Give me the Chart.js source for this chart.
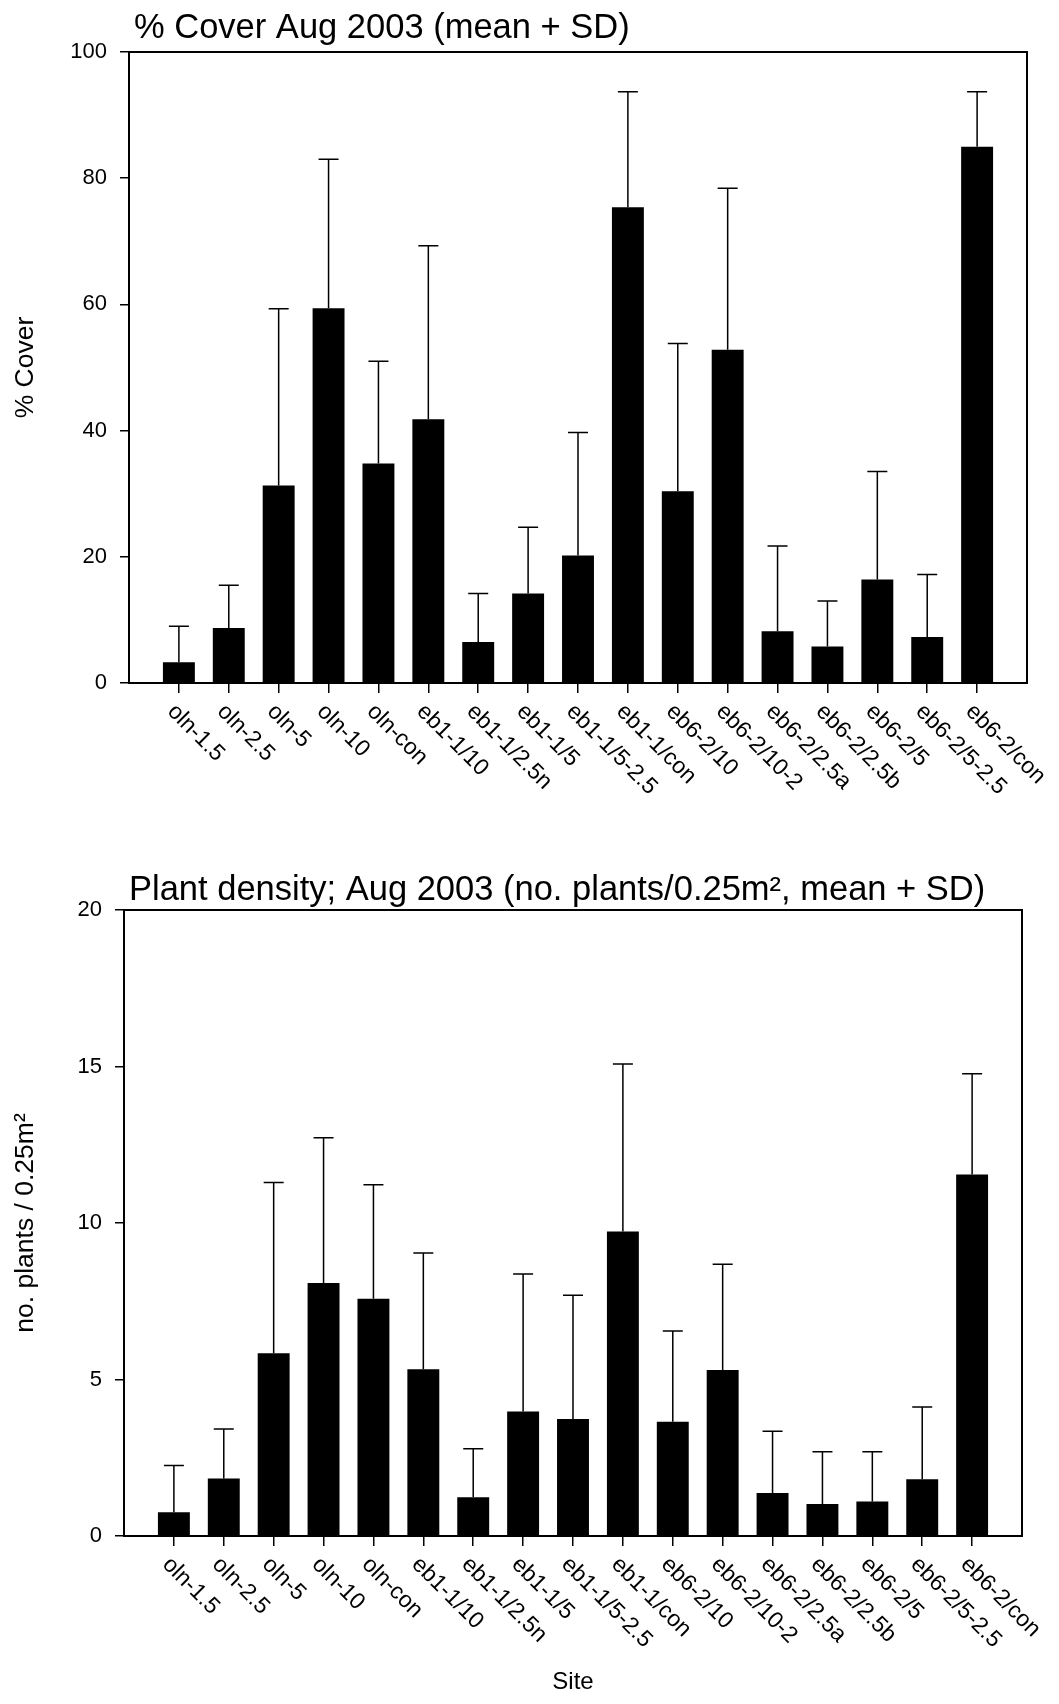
<!DOCTYPE html>
<html>
<head>
<meta charset="utf-8">
<script src="https://cdn.jsdelivr.net/npm/chart.js@4.4.1/dist/chart.umd.min.js"></script>
<style>
  html, body { margin: 0; padding: 0; background: #fff; }
  #wrap { position: relative; width: 1059px; height: 1704px; }
  canvas { position: absolute; left: 0; }
</style>
</head>
<body>
<div id="wrap">
  <canvas id="cover" width="1059" height="830" style="top:0"></canvas>
  <canvas id="density" width="1059" height="874" style="top:830px"></canvas>
</div>
<script>
// sites along the x axis (same for both panels)
const sites = ['oln-1.5', 'oln-2.5', 'oln-5', 'oln-10', 'oln-con',
  'eb1-1/10', 'eb1-1/2.5n', 'eb1-1/5', 'eb1-1/5-2.5', 'eb1-1/con',
  'eb6-2/10', 'eb6-2/10-2', 'eb6-2/2.5a', 'eb6-2/2.5b', 'eb6-2/5', 'eb6-2/5-2.5', 'eb6-2/con'];

// % cover, mean and SD
const coverMean = [3.3, 8.7, 31.3, 59.4, 34.8, 41.8, 6.5, 14.2, 20.2, 75.4, 30.4, 52.8, 8.2, 5.8, 16.4, 7.3, 85.0];
const coverSD   = [5.7, 6.8, 28.0, 23.6, 16.2, 27.5, 7.7, 10.5, 19.5, 18.3, 23.4, 25.6, 13.5, 7.2, 17.1, 9.9, 8.7];
const coverTicks = [0, 20, 40, 60, 80, 100];

// plant density, mean and SD
const densMean = [0.76, 1.84, 5.84, 8.08, 7.58, 5.33, 1.24, 3.98, 3.74, 9.73, 3.65, 5.30, 1.37, 1.02, 1.10, 1.81, 11.55];
const densSD   = [1.49, 1.58, 5.45, 4.64, 3.64, 3.71, 1.55, 4.39, 3.95, 5.35, 2.90, 3.38, 1.98, 1.67, 1.59, 2.31, 3.22];
const densTicks = [0, 5, 10, 15, 20];

const FONT = "'Liberation Sans', Arial, sans-serif";

/* ===== plugin: error bars, frame, slanted site labels, panel title ===== */
function decor(means, sd, title, titleDy) {
  return {
    id: 'decor',
    afterDatasetsDraw(chart) {
      const { ctx, chartArea: a, scales: { x, y } } = chart;
      ctx.save();
      ctx.strokeStyle = '#000';
      ctx.lineWidth = 1.5;
      means.forEach((m, i) => {
        const px = x.getPixelForValue(i);
        const y0 = y.getPixelForValue(m);
        const y1 = y.getPixelForValue(m + sd[i]);
        ctx.beginPath();
        ctx.moveTo(px, y0); ctx.lineTo(px, y1);
        ctx.moveTo(px - 10, y1); ctx.lineTo(px + 10, y1);
        ctx.stroke();
      });
      ctx.lineWidth = 2;
      ctx.strokeRect(a.left, a.top, a.right - a.left, a.bottom - a.top);
      ctx.restore();
    },
    afterDraw(chart) {
      const { ctx, chartArea: a, scales: { x } } = chart;
      ctx.save();
      ctx.fillStyle = '#000';
      ctx.font = '23px ' + FONT;
      ctx.textAlign = 'left';
      ctx.textBaseline = 'middle';
      sites.forEach((s, i) => {
        ctx.save();
        ctx.translate(x.getPixelForValue(i) - 8, a.bottom + 25);
        ctx.rotate(Math.PI / 4);
        ctx.fillText(s, 0, 0);
        ctx.restore();
      });
      ctx.font = '34.5px ' + FONT;
      ctx.textBaseline = 'alphabetic';
      ctx.fillText(title, a.left + 5, a.top - titleDy);
      ctx.restore();
    }
  };
}

function makeChart(id, means, sd, cfg) {
  return new Chart(document.getElementById(id), {
    type: 'bar',
    data: {
      datasets: [{
        data: means.map((v, i) => ({ x: i, y: v })),
        backgroundColor: '#000',
        borderWidth: 0,
        barPercentage: 0.64,
        categoryPercentage: 1
      }]
    },
    options: {
      responsive: false,
      animation: false,
      devicePixelRatio: 1,
      layout: { padding: cfg.padding },
      plugins: { legend: { display: false }, tooltip: { enabled: false } },
      scales: {
        x: {
          type: 'linear', min: -1, max: sites.length, offset: false,
          afterBuildTicks: s => { s.ticks = sites.map((_, i) => ({ value: i })); },
          afterFit: s => { s.height = cfg.xHeight; },
          ticks: { display: false },
          grid: { offset: false, drawOnChartArea: false, tickLength: 10, color: '#000', lineWidth: 1.5 },
          border: { color: '#000', width: 2 },
          title: cfg.xTitle ? {
            display: true, text: cfg.xTitle, color: '#000',
            font: { size: 24, family: FONT }, padding: { top: 0, bottom: 7 }
          } : { display: false }
        },
        y: {
          min: cfg.ticks[0], max: cfg.ticks[cfg.ticks.length - 1],
          afterBuildTicks: s => { s.ticks = cfg.ticks.map(v => ({ value: v })); },
          afterFit: s => { s.width = cfg.yWidth; },
          ticks: { color: '#000', font: { size: 22, family: FONT }, padding: 13 },
          grid: { drawOnChartArea: false, tickLength: 9, color: '#000', lineWidth: 1.5 },
          border: { color: '#000', width: 2 },
          title: {
            display: true, text: cfg.yTitle, color: '#000',
            font: { size: 26.5, family: FONT }, padding: { top: 10, bottom: 0 }
          }
        }
      }
    },
    plugins: [decor(means, sd, cfg.title, cfg.titleDy)]
  });
}

makeChart('cover', coverMean, coverSD, {
  ticks: coverTicks,
  padding: { left: 0, top: 52, right: 32, bottom: 0 },
  yWidth: 129, xHeight: 147,
  yTitle: '% Cover',
  title: '% Cover Aug 2003 (mean + SD)', titleDy: 14
});

makeChart('density', densMean, densSD, {
  ticks: densTicks,
  padding: { left: 0, top: 80, right: 37, bottom: 0 },
  yWidth: 124, xHeight: 168,
  yTitle: 'no. plants / 0.25m²',
  xTitle: 'Site',
  title: 'Plant density; Aug 2003 (no. plants/0.25m², mean + SD)', titleDy: 10
});
</script>
</body>
</html>
